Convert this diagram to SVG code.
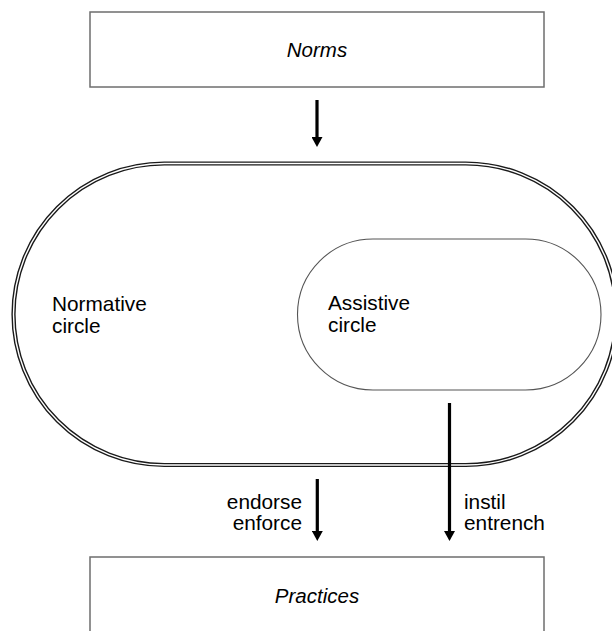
<svg xmlns="http://www.w3.org/2000/svg" width="612" height="631" viewBox="0 0 612 631">
  <style>
    .box { fill: #ffffff; stroke: #6e6e6e; stroke-width: 1.5; }
    .title { font-family: "Liberation Sans", Arial, sans-serif; font-size: 20.5px; font-style: italic; fill: #000; text-anchor: middle; }
    .label { font-family: "Liberation Sans", Arial, sans-serif; font-size: 20.8px; fill: #000; }
    .outer-dark { fill: none; stroke: #1a1a1a; stroke-width: 4.2; }
    .outer-gap { fill: none; stroke: #ffffff; stroke-width: 1.4; }
    .inner { fill: #ffffff; stroke: #555555; stroke-width: 1.1; }
    .shaft { stroke: #000; stroke-width: 3.2; fill: none; }
    .head { fill: #000; }
  </style>
  <defs>
    <!-- arrowhead drawn along +x so orient="auto" turns it with the line -->
    <marker id="arrowhead" viewBox="0 0 10 11" refX="1" refY="5.5" markerWidth="10" markerHeight="11" markerUnits="userSpaceOnUse" orient="auto">
      <path d="M0,0 L10,5.5 L0,11 Z" class="head"/>
    </marker>
  </defs>
  <rect width="612" height="631" fill="#ffffff"/>

  <g id="norms">
    <rect class="box" x="90" y="12" width="454" height="75"/>
    <text class="title" x="317" y="57">Norms</text>
  </g>

  <g id="normative-circle">
    <rect class="outer-dark" x="13.5" y="163.5" width="603" height="301.5" rx="150.75" ry="150.75"/>
    <rect class="outer-gap" x="13.5" y="163.5" width="603" height="301.5" rx="150.75" ry="150.75"/>
    <text class="label" x="52" y="311">Normative</text>
    <text class="label" x="52" y="333">circle</text>
  </g>

  <g id="assistive-circle">
    <rect class="inner" x="297.5" y="239" width="303.5" height="151" rx="75.5" ry="75.5"/>
    <text class="label" x="328" y="310">Assistive</text>
    <text class="label" x="328" y="332">circle</text>
  </g>

  <g id="practices">
    <rect class="box" x="90" y="557" width="454" height="90"/>
    <text class="title" x="317" y="603">Practices</text>
  </g>

  <g id="connectors">
    <line class="shaft" x1="317" y1="100" x2="317" y2="138" marker-end="url(#arrowhead)"/>
    <line class="shaft" x1="317.3" y1="479" x2="317.3" y2="532" marker-end="url(#arrowhead)"/>
    <line class="shaft" x1="449.5" y1="403" x2="449.5" y2="532" marker-end="url(#arrowhead)"/>
    <text class="label" x="302" y="509" text-anchor="end">endorse</text>
    <text class="label" x="302" y="530" text-anchor="end">enforce</text>
    <text class="label" x="464" y="509">instil</text>
    <text class="label" x="464" y="530">entrench</text>
  </g>
</svg>
